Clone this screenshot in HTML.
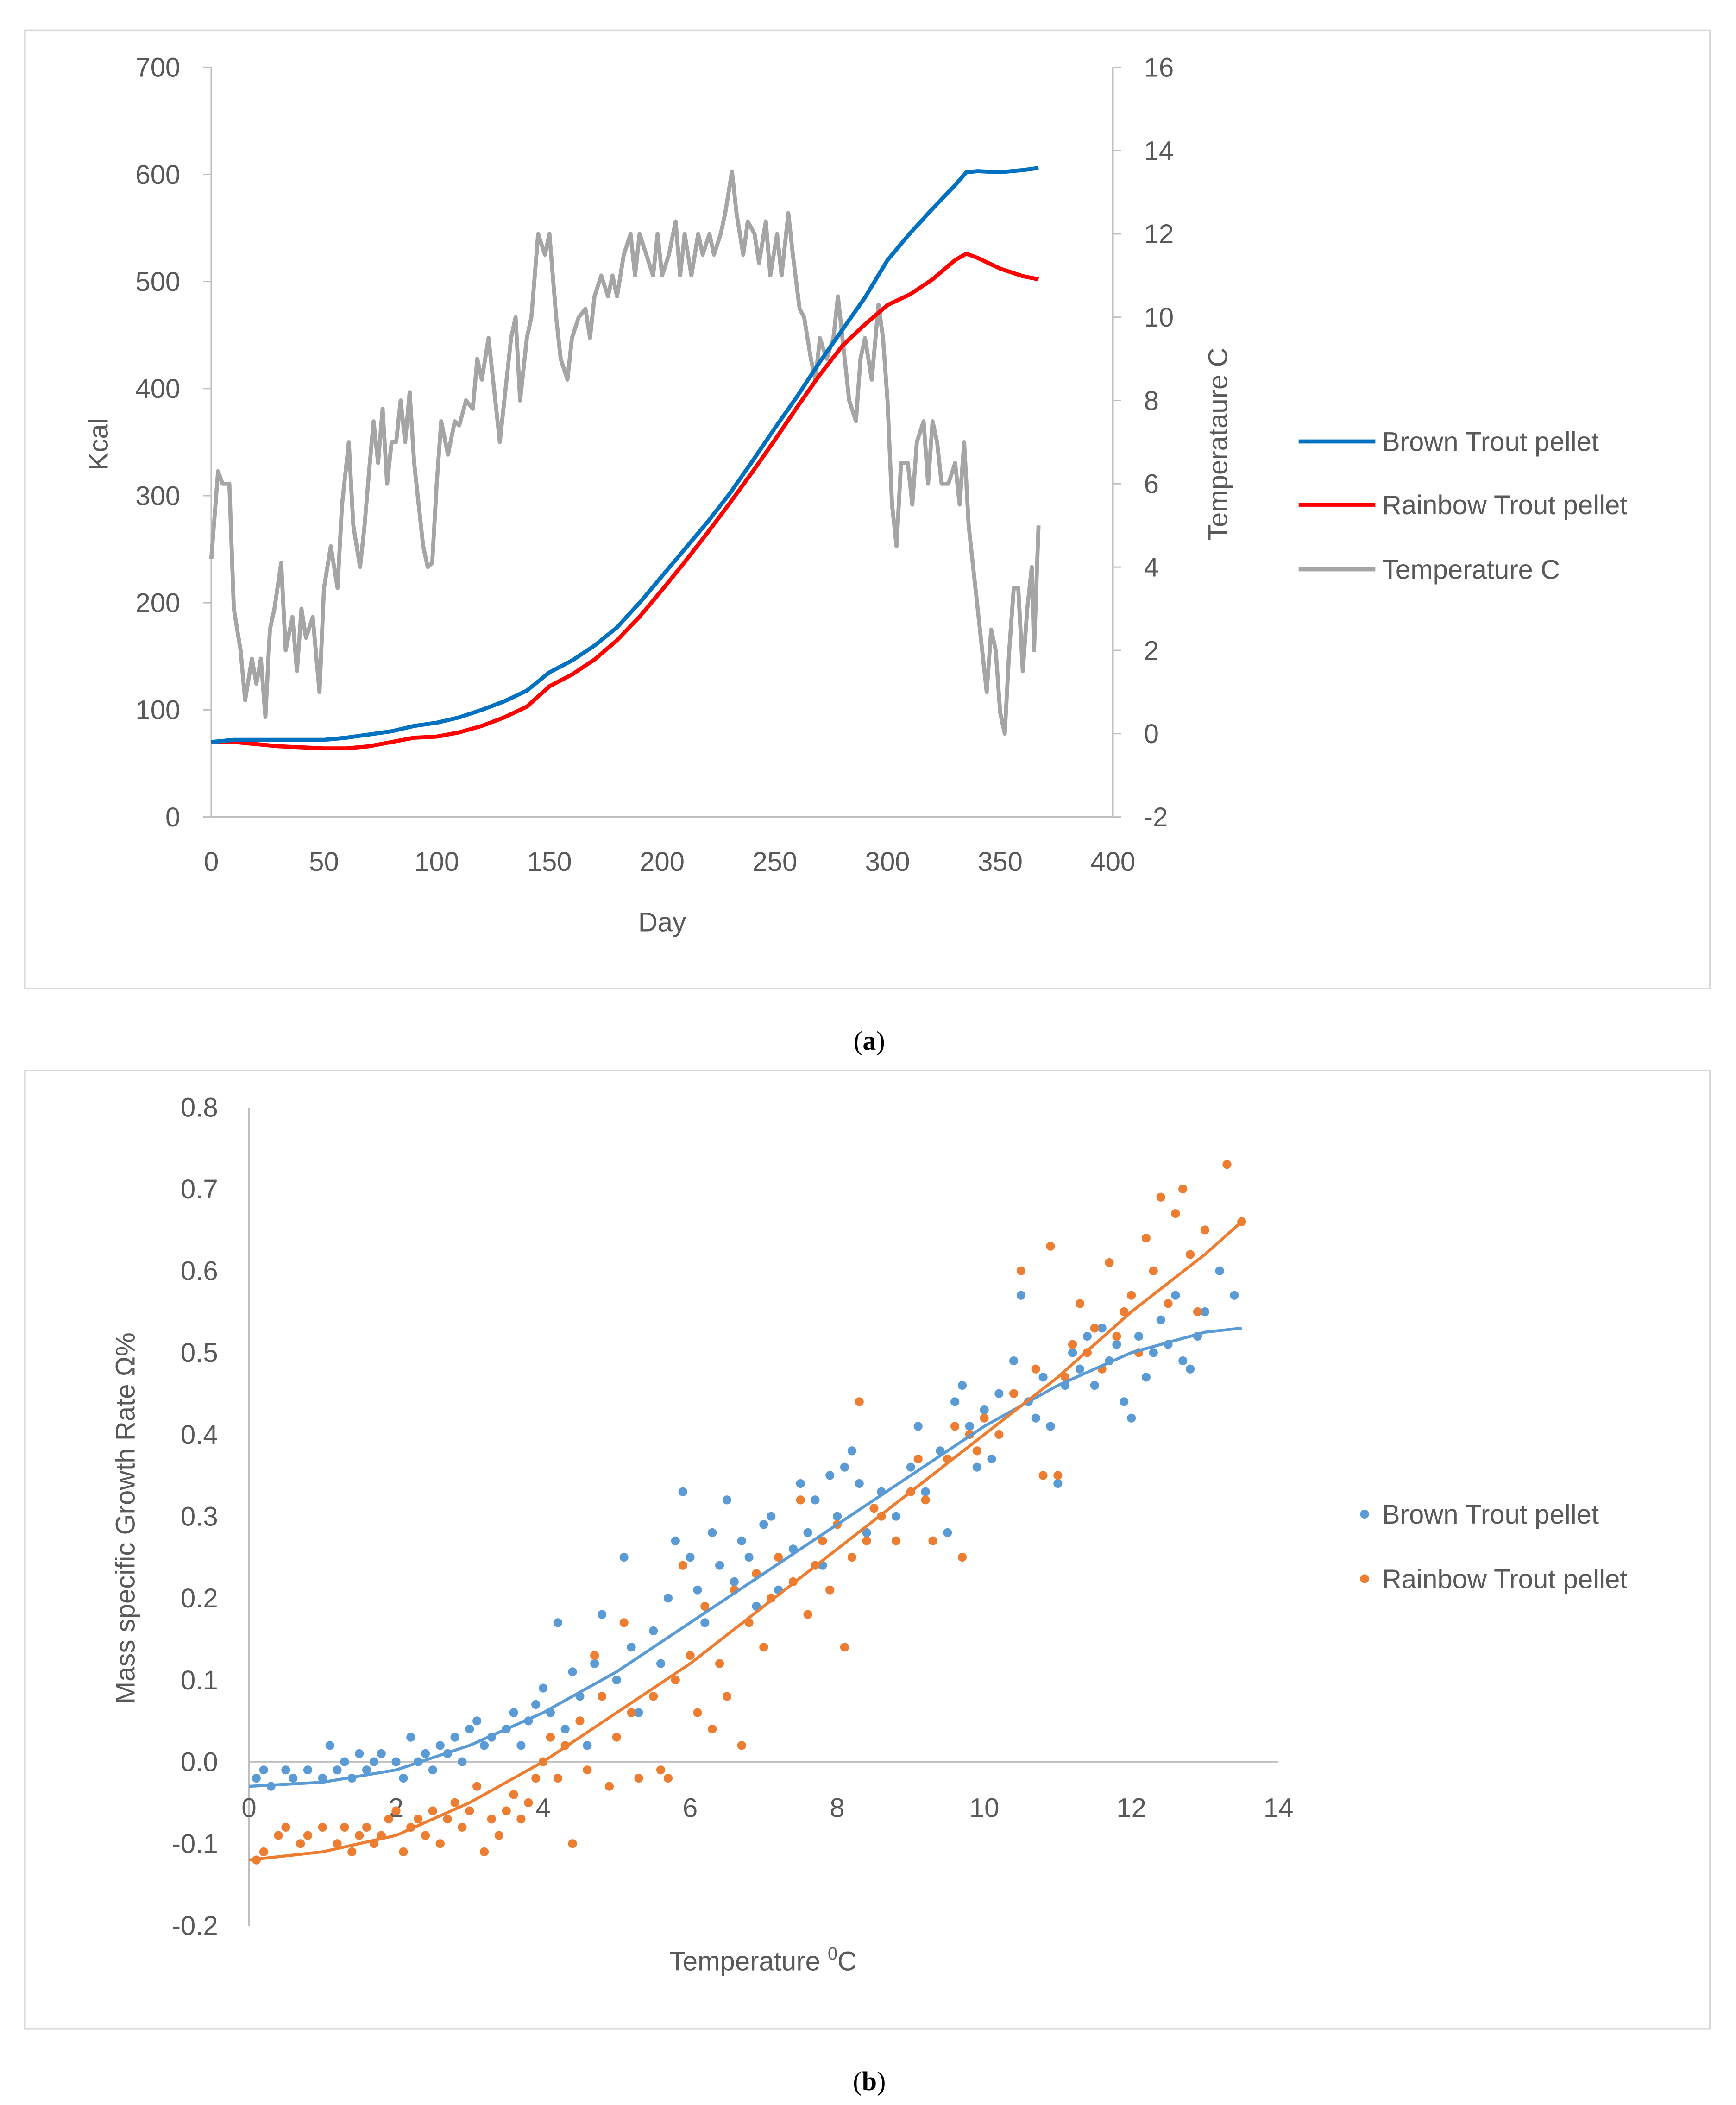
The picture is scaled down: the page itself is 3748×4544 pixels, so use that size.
<!DOCTYPE html>
<html><head><meta charset="utf-8"><style>
html,body{margin:0;padding:0;background:#fff}
svg{display:block}
text{font-family:"Liberation Sans","DejaVu Sans",sans-serif;fill:#595959}
</style></head><body>
<svg id="s" xmlns="http://www.w3.org/2000/svg" width="3748" height="4544" viewBox="0 0 1290 1564">
<rect x="18.5" y="22.5" width="1252" height="712" fill="#fff" stroke="#d9d9d9" stroke-width="1.2"/>
<rect x="18.5" y="795.5" width="1252" height="712" fill="#fff" stroke="#d9d9d9" stroke-width="1.2"/>
<g id="ga"></g>
<g id="gb"></g>
<text x="646" y="780" text-anchor="middle" style="font-family:'Liberation Serif',serif;fill:#000;font-size:20px">(<tspan font-weight="bold">a</tspan>)</text>
<text x="646" y="1553" text-anchor="middle" style="font-family:'Liberation Serif',serif;fill:#000;font-size:20px">(<tspan font-weight="bold">b</tspan>)</text>
</svg>
<script>
// ---- Chart A data ----
const aDays = [0,10,20,30,40,50,60,70,80,90,100,110,120,130,140,150,160,170,180,190,200,210,220,230,240,250,260,270,280,290,300,310,320,330,335,340,350,360,367];
const brownKcal = [70,72,72,72,72,72,74,77,80,85,88,93,100,108,118,135,146,160,177,200,225,250,275,302,332,363,393,425,455,485,520,545,568,590,602,603,602,604,606];
const rainbowKcal = [70,70,68,66,65,64,64,66,70,74,75,79,85,93,103,122,133,147,165,187,212,238,265,293,322,352,383,413,440,460,478,488,502,520,526,522,512,505,502];
const tempDays = [0,3,5,8,10,13,15,18,20,22,24,26,28,31,33,36,38,40,42,45,48,50,53,56,58,61,63,66,68,70,72,74,76,78,80,82,84,86,88,90,92,94,96,98,100,102,105,108,110,113,116,118,120,123,126,128,131,133,135,137,140,142,145,148,150,153,155,158,160,163,166,168,170,173,176,178,180,183,186,188,190,193,196,198,200,203,206,208,210,213,216,218,221,223,226,228,231,233,236,238,241,243,246,248,251,253,256,258,261,263,266,268,270,273,276,278,281,283,286,288,290,293,296,298,300,302,304,306,309,311,313,316,318,320,322,324,327,330,332,334,336,338,340,342,344,346,348,350,352,354,356,358,360,362,364,365,367];
const tempC = [4.2,6.3,6,6,3,2,0.8,1.8,1.2,1.8,0.4,2.5,3,4.1,2,2.8,1.5,3,2.3,2.8,1,3.5,4.5,3.5,5.5,7,5,4,5,6.3,7.5,6.5,7.8,6,7,7,8,7,8.2,6.5,5.5,4.5,4,4.1,6,7.5,6.7,7.5,7.4,8,7.8,9,8.5,9.5,8,7,8.5,9.5,10,8,9.5,10,12,11.5,12,10,9,8.5,9.5,10,10.2,9.5,10.5,11,10.5,11,10.5,11.5,12,11,12,11.5,11,12,11,11.5,12.3,11,12,11,12,11.5,12,11.5,12,12.5,13.5,12.5,11.5,12.3,12,11.3,12.3,11,12,11,12.5,11.5,10.2,10,9,8.5,9.5,9,9.5,10.5,9,8,7.5,9,9.5,8.5,10.3,9.5,8,5.5,4.5,6.5,6.5,5.5,7,7.5,6,7.5,7,6,6,6.5,5.5,7,5,4,3,2,1,2.5,2,0.5,0,2,3.5,3.5,1.5,3,4,2,5];
const aXTicks = [0,50,100,150,200,250,300,350,400];
const aYTicks = [0,100,200,300,400,500,600,700];
const aY2Ticks = [-2,0,2,4,6,8,10,12,14,16];

// ---- Chart B data ----
const brownPts = [[0.1,-0.02],[0.2,-0.01],[0.3,-0.03],[0.5,-0.01],[0.6,-0.02],[0.8,-0.01],[1.0,-0.02],[1.1,0.02],[1.2,-0.01],[1.3,0.0],[1.4,-0.02],[1.5,0.01],[1.6,-0.01],[1.7,0.0],[1.8,0.01],[2.0,0.0],[2.1,-0.02],[2.2,0.03],[2.3,0.0],[2.4,0.01],[2.5,-0.01],[2.6,0.02],[2.7,0.01],[2.8,0.03],[2.9,0.0],[3.0,0.04],[3.1,0.05],[3.2,0.02],[3.3,0.03],[3.5,0.04],[3.6,0.06],[3.7,0.02],[3.8,0.05],[3.9,0.07],[4.0,0.09],[4.1,0.06],[4.2,0.17],[4.3,0.04],[4.4,0.11],[4.5,0.08],[4.6,0.02],[4.7,0.12],[4.8,0.18],[5.0,0.10],[5.1,0.25],[5.2,0.14],[5.3,0.06],[5.5,0.16],[5.6,0.12],[5.7,0.20],[5.8,0.27],[5.9,0.33],[6.0,0.25],[6.1,0.21],[6.2,0.17],[6.3,0.28],[6.4,0.24],[6.5,0.32],[6.6,0.22],[6.7,0.27],[6.8,0.25],[6.9,0.19],[7.0,0.29],[7.1,0.30],[7.2,0.21],[7.4,0.26],[7.5,0.34],[7.6,0.28],[7.7,0.32],[7.8,0.24],[7.9,0.35],[8.0,0.30],[8.1,0.36],[8.2,0.38],[8.3,0.34],[8.4,0.28],[8.6,0.33],[8.8,0.30],[9.0,0.36],[9.1,0.41],[9.2,0.33],[9.4,0.38],[9.5,0.28],[9.6,0.44],[9.7,0.46],[9.8,0.41],[9.9,0.36],[10.0,0.43],[10.1,0.37],[10.2,0.45],[10.4,0.49],[10.5,0.57],[10.6,0.44],[10.7,0.42],[10.8,0.47],[10.9,0.41],[11.0,0.34],[11.1,0.46],[11.2,0.50],[11.3,0.48],[11.4,0.52],[11.5,0.46],[11.6,0.53],[11.7,0.49],[11.8,0.51],[11.9,0.44],[12.0,0.42],[12.1,0.52],[12.2,0.47],[12.3,0.50],[12.4,0.54],[12.5,0.51],[12.6,0.57],[12.7,0.49],[12.8,0.48],[12.9,0.52],[13.0,0.55],[13.2,0.60],[13.4,0.57]];
const rainbowPts = [[0.1,-0.12],[0.2,-0.11],[0.4,-0.09],[0.5,-0.08],[0.7,-0.10],[0.8,-0.09],[1.0,-0.08],[1.2,-0.10],[1.3,-0.08],[1.4,-0.11],[1.5,-0.09],[1.6,-0.08],[1.7,-0.10],[1.8,-0.09],[1.9,-0.07],[2.0,-0.06],[2.1,-0.11],[2.2,-0.08],[2.3,-0.07],[2.4,-0.09],[2.5,-0.06],[2.6,-0.10],[2.7,-0.07],[2.8,-0.05],[2.9,-0.08],[3.0,-0.06],[3.1,-0.03],[3.2,-0.11],[3.3,-0.07],[3.4,-0.09],[3.5,-0.06],[3.6,-0.04],[3.7,-0.07],[3.8,-0.05],[3.9,-0.02],[4.0,0.0],[4.1,0.03],[4.2,-0.02],[4.3,0.02],[4.4,-0.10],[4.5,0.05],[4.6,-0.01],[4.7,0.13],[4.8,0.08],[4.9,-0.03],[5.0,0.03],[5.1,0.17],[5.2,0.06],[5.3,-0.02],[5.5,0.08],[5.6,-0.01],[5.7,-0.02],[5.8,0.10],[5.9,0.24],[6.0,0.13],[6.1,0.06],[6.2,0.19],[6.3,0.04],[6.4,0.12],[6.5,0.08],[6.6,0.21],[6.7,0.02],[6.8,0.17],[6.9,0.23],[7.0,0.14],[7.1,0.20],[7.2,0.25],[7.4,0.22],[7.5,0.32],[7.6,0.18],[7.7,0.24],[7.8,0.27],[7.9,0.21],[8.0,0.29],[8.1,0.14],[8.2,0.25],[8.3,0.44],[8.4,0.27],[8.5,0.31],[8.6,0.30],[8.8,0.27],[9.0,0.33],[9.1,0.37],[9.2,0.32],[9.3,0.27],[9.5,0.37],[9.6,0.41],[9.7,0.25],[9.8,0.40],[9.9,0.38],[10.0,0.42],[10.2,0.40],[10.4,0.45],[10.5,0.60],[10.7,0.48],[10.8,0.35],[10.9,0.63],[11.0,0.35],[11.1,0.47],[11.2,0.51],[11.3,0.56],[11.4,0.50],[11.5,0.53],[11.6,0.48],[11.7,0.61],[11.8,0.52],[11.9,0.55],[12.0,0.57],[12.1,0.50],[12.2,0.64],[12.3,0.60],[12.4,0.69],[12.5,0.56],[12.6,0.67],[12.7,0.70],[12.8,0.62],[12.9,0.55],[13.0,0.65],[13.3,0.73],[13.5,0.66]];
const trendX = [0,1,2,3,4,5,6,7,8,9,10,11,12,13,13.5];
const brownTrend = [-0.03,-0.025,-0.01,0.02,0.06,0.11,0.17,0.23,0.29,0.35,0.41,0.46,0.50,0.525,0.53];
const rainbowTrend = [-0.12,-0.11,-0.09,-0.05,0.0,0.06,0.12,0.19,0.26,0.33,0.40,0.47,0.55,0.62,0.66];
const bXTicks = [0,2,4,6,8,10,12,14];
const bYTicks = [-0.2,-0.1,0.0,0.1,0.2,0.3,0.4,0.5,0.6,0.7,0.8];

const NS = "http://www.w3.org/2000/svg";
function mk(parent, tag, attrs, txt){
  const e = document.createElementNS(NS, tag);
  for (const k in attrs) e.setAttribute(k, attrs[k]);
  if (txt !== undefined) e.textContent = txt;
  parent.appendChild(e); return e;
}

// Chart A scales
const ax = d => 157 + (d/400)*670;
const ay = v => 607 - (v/700)*557;
const ay2 = t => 607 - ((t+2)/18)*557;
const ga = document.getElementById('ga');

let el;
el = mk(ga,'line',{x1:157,y1:50,x2:157,y2:607,stroke:'#bfbfbf','stroke-width':1.2});
 
el = mk(ga,'line',{x1:827,y1:50,x2:827,y2:607,stroke:'#bfbfbf','stroke-width':1.2});
 
el = mk(ga,'line',{x1:157,y1:607,x2:827,y2:607,stroke:'#bfbfbf','stroke-width':1.2});
 

aXTicks.forEach(t=>{
  const e = mk(ga,'text',{x:ax(t),y:647,'text-anchor':'middle','font-size':20},String(t));
   
});
aYTicks.forEach(t=>{
  const e = mk(ga,'text',{x:134,y:ay(t)+7,'text-anchor':'end','font-size':20},String(t));
   
  const k = mk(ga,'line',{x1:151,y1:ay(t),x2:157,y2:ay(t),stroke:'#bfbfbf'});
   
});
aY2Ticks.forEach(t=>{
  const e = mk(ga,'text',{x:850,y:ay2(t)+7,'text-anchor':'start','font-size':20},String(t));
   
  const k = mk(ga,'line',{x1:827,y1:ay2(t),x2:833,y2:ay2(t),stroke:'#bfbfbf'});
   
});

el = mk(ga,'polyline',{points:tempDays.map((d,i)=>ax(d)+','+ay2(tempC[i])).join(' '),fill:'none',stroke:'#a5a5a5','stroke-width':3,'stroke-linejoin':'round'});
 
el = mk(ga,'polyline',{points:aDays.map((d,i)=>ax(d)+','+ay(rainbowKcal[i])).join(' '),fill:'none',stroke:'#ff0000','stroke-width':3,'stroke-linejoin':'round'});
 
el = mk(ga,'polyline',{points:aDays.map((d,i)=>ax(d)+','+ay(brownKcal[i])).join(' '),fill:'none',stroke:'#0070c0','stroke-width':3,'stroke-linejoin':'round'});
 

el = mk(ga,'text',{x:492,y:692,'text-anchor':'middle','font-size':20},'Day');
 
el = mk(ga,'text',{x:80,y:330,'text-anchor':'middle','font-size':20,transform:'rotate(-90 80 330)'},'Kcal');
 
el = mk(ga,'text',{x:912,y:330,'text-anchor':'middle','font-size':20,transform:'rotate(-90 912 330)'},'Temperataure C');
 

const legA = [['Brown Trout pellet','#0070c0',328],['Rainbow Trout pellet','#ff0000',375],['Temperature C','#a5a5a5',423]];
legA.forEach(l=>{
  const g = mk(ga,'g',{});
   
  mk(g,'line',{x1:965,y1:l[2],x2:1022,y2:l[2],stroke:l[1],'stroke-width':3});
  mk(g,'text',{x:1027,y:l[2]+7,'font-size':20},l[0]);
});

// Chart B scales
const bx = v => 185 + (v/14)*765;
const by = v => 1309 - v*608;
const gb = document.getElementById('gb');
el = mk(gb,'line',{x1:185,y1:823,x2:185,y2:1431,stroke:'#bfbfbf','stroke-width':1.2});
 
el = mk(gb,'line',{x1:185,y1:1309,x2:950,y2:1309,stroke:'#bfbfbf','stroke-width':1.2});
 
bXTicks.forEach(t=>{
  const e = mk(gb,'text',{x:bx(t),y:1350,'text-anchor':'middle','font-size':20},String(t));
   
});
bYTicks.forEach(t=>{
  const e = mk(gb,'text',{x:162,y:by(t)+7,'text-anchor':'end','font-size':20},t.toFixed(1));
   
});
brownPts.forEach(p=>{
  const c = mk(gb,'circle',{cx:bx(p[0]),cy:by(p[1]),r:3.3,fill:'#5b9bd5'});
   
});
rainbowPts.forEach(p=>{
  const c = mk(gb,'circle',{cx:bx(p[0]),cy:by(p[1]),r:3.3,fill:'#ed7d31'});
   
});
el = mk(gb,'polyline',{points:trendX.map((x,i)=>bx(x)+','+by(brownTrend[i])).join(' '),fill:'none',stroke:'#5b9bd5','stroke-width':2.2});
 
el = mk(gb,'polyline',{points:trendX.map((x,i)=>bx(x)+','+by(rainbowTrend[i])).join(' '),fill:'none',stroke:'#ed7d31','stroke-width':2.2});
 

el = mk(gb,'text',{x:100,y:1128,'text-anchor':'middle','font-size':20,transform:'rotate(-90 100 1128)'},'Mass specific Growth Rate Ω%');
 
el = mk(gb,'text',{x:567,y:1464,'text-anchor':'middle','font-size':20},'Temperature ');
 
const ts = mk(el,'tspan',{dy:-8,'font-size':13},'0');
mk(el,'tspan',{dy:8},'C');

const legB = [['Brown Trout pellet','#5b9bd5',1125],['Rainbow Trout pellet','#ed7d31',1173]];
legB.forEach(l=>{
  const g = mk(gb,'g',{});
   
  mk(g,'circle',{cx:1014,cy:l[2],r:3.3,fill:l[1]});
  mk(g,'text',{x:1027,y:l[2]+7,'font-size':20},l[0]);
});
</script>
</body></html>
